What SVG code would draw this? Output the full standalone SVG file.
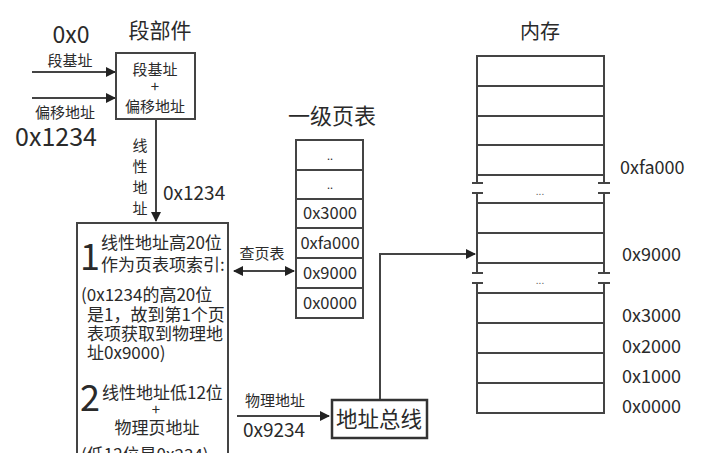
<svg xmlns="http://www.w3.org/2000/svg" width="726" height="453" viewBox="0 0 726 453">
<defs>
<style>
text{font-family:"Noto Sans CJK SC","Noto Sans",sans-serif;fill:#2a2a2a;}
.ln{stroke:#444;stroke-width:2;fill:none;}
.box{stroke:#444;stroke-width:2;fill:#fff;}
.t15{font-size:15px;}
.t16{font-size:16px;}
.t17{font-size:17px;}
.pt{font-size:16.5px;}
.mem{font-size:18px;}
.t20{font-size:20px;}
.t21{font-size:21px;}
.c{text-anchor:middle;}
</style>
<marker id="ah" markerWidth="10" markerHeight="10" refX="9" refY="5" orient="auto" markerUnits="userSpaceOnUse">
<path d="M0,0 L10,5 L0,10 z" fill="#222"/>
</marker>
<marker id="as" markerWidth="10" markerHeight="10" refX="1" refY="5" orient="auto" markerUnits="userSpaceOnUse">
<path d="M10,0 L0,5 L10,10 z" fill="#222"/>
</marker>
</defs>
<rect width="726" height="453" fill="#fff"/>

<g id="connectors">
<line class="ln" x1="32" y1="72" x2="115" y2="72" marker-end="url(#ah)"/>
<line class="ln" x1="32" y1="98" x2="115" y2="98" marker-end="url(#ah)"/>
<line class="ln" x1="156" y1="119" x2="156" y2="221" marker-end="url(#ah)"/>
<line class="ln" x1="234" y1="271" x2="294" y2="271" marker-start="url(#as)" marker-end="url(#ah)"/>
<line class="ln" x1="237" y1="416" x2="329" y2="416" marker-end="url(#ah)"/>
<polyline class="ln" points="380,400 380,254 475,254" marker-end="url(#ah)"/>
</g>

<g id="labels">
<text x="71" y="43" text-anchor="middle" style="font-size:23px">0x0</text>
<text class="t15" x="70" y="66" text-anchor="middle">段基址</text>
<text class="t15" x="65" y="118" text-anchor="middle">偏移地址</text>
<text x="56" y="146" text-anchor="middle" style="font-size:25px">0x1234</text>
<text class="t15 c" x="140" y="151">线</text>
<text class="t15 c" x="140" y="172">性</text>
<text class="t15 c" x="140" y="193">地</text>
<text class="t15 c" x="140" y="214">址</text>
<text x="163" y="200" style="font-size:19px">0x1234</text>
<text class="t15" x="262" y="259" text-anchor="middle">查页表</text>
<text class="t15" x="275" y="406" text-anchor="middle">物理地址</text>
<text x="274" y="437" text-anchor="middle" style="font-size:19px">0x9234</text>
</g>

<g id="segment">
<text class="t21" x="160" y="38" text-anchor="middle">段部件</text>
<rect class="box" x="116" y="53" width="79" height="66"/>
<text class="t15 c" x="155" y="75">段基址</text>
<text class="t15 c" x="155" y="92">+</text>
<text class="t15 c" x="155" y="112">偏移地址</text>
</g>

<g id="mmu">
<rect class="box" x="77" y="223" width="151" height="250"/>
<text x="80" y="270" style="font-size:36px">1</text>
<text class="t17" x="101" y="249">线性地址高20位</text>
<text class="t17" x="101" y="271">作为页表项索引:</text>
<text class="t17" x="81" y="301">(0x1234的高20位</text>
<text class="t17" x="87" y="321">是1，故到第1个页</text>
<text class="t17" x="87" y="340">表项获取到物理地</text>
<text class="t17" x="87" y="359">址0x9000)</text>
<text x="80" y="411" style="font-size:36px">2</text>
<text class="t17" x="102" y="399">线性地址低12位</text>
<text class="t15 c" x="156" y="415">+</text>
<text class="t17 c" x="157" y="434">物理页地址</text>
<text class="t17" x="81" y="461">(低12位是0x234)</text>
</g>

<g id="pagetable">
<text x="332" y="124" text-anchor="middle" style="font-size:22px">一级页表</text>
<rect class="box" x="296" y="140" width="67" height="178"/>
<line class="ln" x1="296" y1="170" x2="363" y2="170"/>
<line class="ln" x1="296" y1="199" x2="363" y2="199"/>
<line class="ln" x1="296" y1="228" x2="363" y2="228"/>
<line class="ln" x1="296" y1="258" x2="363" y2="258"/>
<line class="ln" x1="296" y1="288" x2="363" y2="288"/>
<text class="c" x="330" y="160" style="font-size:11px">..</text>
<text class="c" x="330" y="189" style="font-size:11px">..</text>
<text class="pt c" x="330" y="219">0x3000</text>
<text class="pt c" x="330" y="249">0xfa000</text>
<text class="pt c" x="330" y="279">0x9000</text>
<text class="pt c" x="330" y="309">0x0000</text>
</g>

<g id="bus">
<rect x="332" y="400" width="95" height="38" fill="#fff" stroke="#333" stroke-width="2.5"/>
<text class="c" x="379" y="427" style="font-size:21.5px">地址总线</text>
</g>

<g id="memory">
<text class="t20" x="540" y="39" text-anchor="middle">内存</text>
<polyline class="ln" points="477,183 477,56 604,56 604,183"/>
<line class="ln" x1="477" y1="86" x2="604" y2="86"/>
<line class="ln" x1="477" y1="116" x2="604" y2="116"/>
<line class="ln" x1="477" y1="145" x2="604" y2="145"/>
<line class="ln" x1="477" y1="175" x2="604" y2="175"/>
<line class="ln" x1="472" y1="183" x2="483" y2="183"/>
<line class="ln" x1="598" y1="183" x2="610" y2="183"/>
<line class="ln" x1="472" y1="193" x2="483" y2="193"/>
<line class="ln" x1="598" y1="193" x2="610" y2="193"/>
<text class="c" x="540" y="195" style="font-size:10px;fill:#666">...</text>
<line class="ln" x1="477" y1="193" x2="477" y2="273"/>
<line class="ln" x1="604" y1="193" x2="604" y2="273"/>
<line class="ln" x1="477" y1="203" x2="604" y2="203"/>
<line class="ln" x1="477" y1="233" x2="604" y2="233"/>
<line class="ln" x1="477" y1="263" x2="604" y2="263"/>
<line class="ln" x1="472" y1="273" x2="483" y2="273"/>
<line class="ln" x1="598" y1="273" x2="610" y2="273"/>
<line class="ln" x1="472" y1="283" x2="483" y2="283"/>
<line class="ln" x1="598" y1="283" x2="610" y2="283"/>
<text class="c" x="540" y="284" style="font-size:10px;fill:#666">...</text>
<polyline class="ln" points="477,283 477,413 604,413 604,283"/>
<line class="ln" x1="477" y1="293" x2="604" y2="293"/>
<line class="ln" x1="477" y1="323" x2="604" y2="323"/>
<line class="ln" x1="477" y1="353" x2="604" y2="353"/>
<line class="ln" x1="477" y1="383" x2="604" y2="383"/>
<text class="mem" x="620" y="174">0xfa000</text>
<text class="mem" x="622" y="261">0x9000</text>
<text class="mem" x="622" y="322">0x3000</text>
<text class="mem" x="622" y="353">0x2000</text>
<text class="mem" x="622" y="383">0x1000</text>
<text class="mem" x="622" y="413">0x0000</text>
</g>
</svg>
